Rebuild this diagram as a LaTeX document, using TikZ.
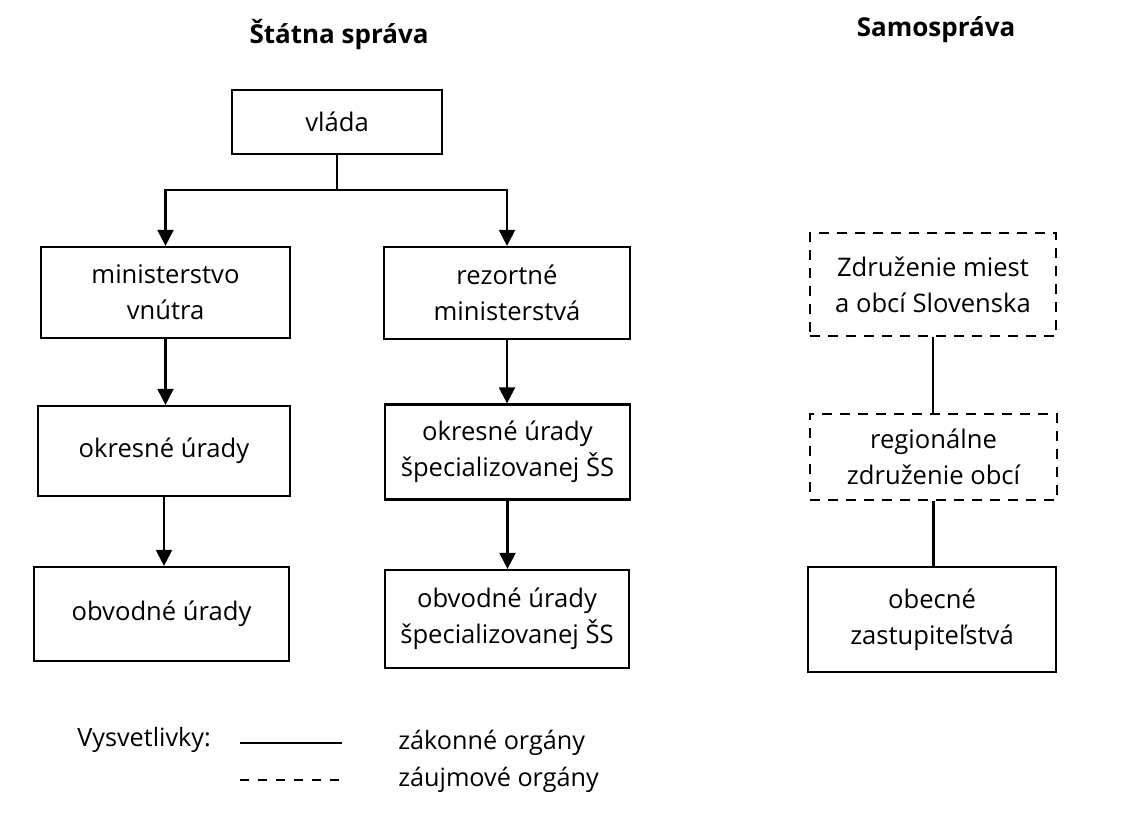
\documentclass[tikz,border=0pt]{standalone}
\usepackage{fontspec}
\setmainfont{Open Sans}
\usetikzlibrary{arrows.meta}
\begin{document}
\begin{tikzpicture}[x=0.5pt,y=-0.5pt,
  box/.style={draw, line width=1.1pt, align=center, inner sep=0pt,
    font=\fontsize{12.8}{18}\selectfont},
  iobox/.style={box, line width=1pt, dash pattern=on 5pt off 4pt},
  arr/.style={line width=1.1pt, -{Triangle[length=8pt,width=8pt]}},
  link/.style={line width=1.1pt},
  title/.style={font=\bfseries\fontsize{13}{15}\selectfont},
  legend/.style={font=\fontsize{12.6}{14}\selectfont, anchor=west, inner sep=0pt}]
\useasboundingbox[fill=white] (0,0) rectangle (1138,813);

% column headings
\node[title] (hstat) at (339,35) {Štátna správa};
\node[title] (hsamo) at (936,30) {Samospráva};

% state administration
\node[box, minimum width=105pt, minimum height=32pt] (vlada) at (337,122) {vláda};
\node[box, minimum width=124.5pt, minimum height=45.5pt] (mv) at (165.5,292.5) {ministerstvo\\vnútra};
\node[box, minimum width=123pt, minimum height=46pt] (rm) at (507,293) {rezortné\\ministerstvá};
\node[box, minimum width=126pt, minimum height=45pt] (ou) at (164,451) {okresné úrady};
\node[box, minimum width=122.5pt, minimum height=47.5pt] (ous) at (507.5,452) {okresné úrady\\špecializovanej ŠS};
\node[box, minimum width=127.5pt, minimum height=47pt] (obu) at (161.5,614) {obvodné úrady};
\node[box, minimum width=122pt, minimum height=49pt] (obus) at (507,619) {obvodné úrady\\špecializovanej ŠS};

% self-government
\node[iobox, minimum width=123pt, minimum height=51.5pt] (zm) at (933,284.5) {Združenie miest\\a obcí Slovenska};
\node[iobox, minimum width=123.5pt, minimum height=43pt] (rz) at (933.5,457) {regionálne\\združenie obcí};
\node[box, minimum width=124pt, minimum height=52.5pt] (oz) at (932,619.5) {obecné\\zastupiteľstvá};

% connectors
\coordinate (fork) at (337,190);
\draw[link] (vlada.south) -- (fork);
\draw[arr] (fork) -| (mv.north);
\draw[arr] (fork) -| (rm.north);
\draw[arr] (mv.south) -- (mv.south |- ou.north);
\draw[arr] (rm.south) -- (rm.south |- ous.north);
\draw[arr] (ou.south) -- (ou.south |- obu.north);
\draw[arr] (ous.south) -- (ous.south |- obus.north);
\draw[link] (zm.south) -- (zm.south |- rz.north);
\draw[link] (rz.south) -- (rz.south |- oz.north);

% legend
\node[legend] (vys) at (77,740) {Vysvetlivky:};
\coordinate (ls1) at (240,743);
\coordinate (ls2) at (342,743);
\coordinate (ld1) at (240,780);
\coordinate (ld2) at (342,780);
\draw[link] (ls1) -- (ls2);
\draw[link, dash pattern=on 4.5pt off 4.5pt] (ld1) -- (ld2);
\node[legend] (zak) at (398,743) {zákonné orgány};
\node[legend] (zau) at (398,780) {záujmové orgány};
\end{tikzpicture}
\end{document}
